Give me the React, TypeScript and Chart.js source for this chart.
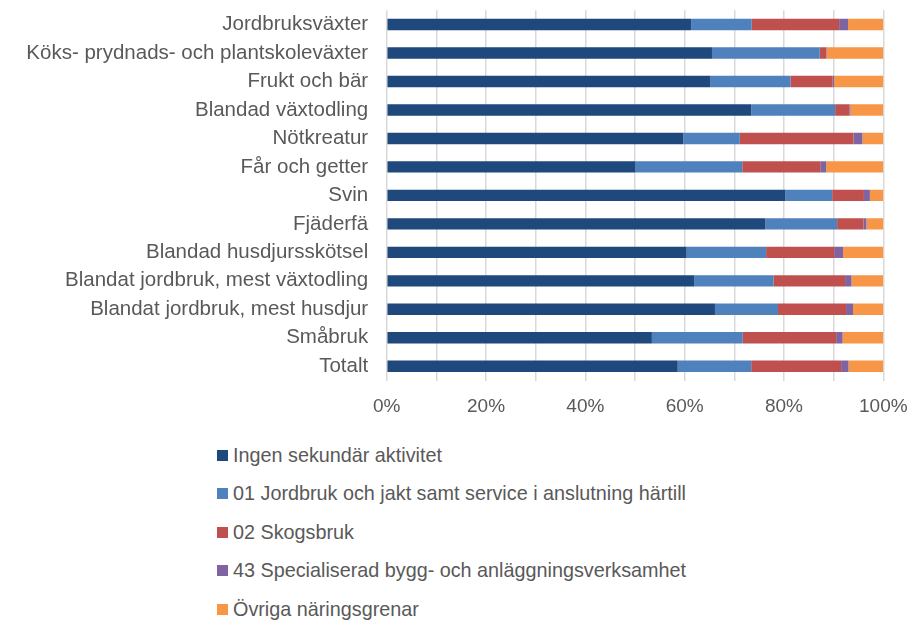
import React, { useEffect, useRef } from "react";
import { Chart, registerables } from "chart.js";

Chart.register(...registerables);

const categories = [
  "Jordbruksväxter",
  "Köks- prydnads- och plantskoleväxter",
  "Frukt och bär",
  "Blandad växtodling",
  "Nötkreatur",
  "Får och getter",
  "Svin",
  "Fjäderfä",
  "Blandad husdjursskötsel",
  "Blandat jordbruk, mest växtodling",
  "Blandat jordbruk, mest husdjur",
  "Småbruk",
  "Totalt",
];

const seriesNames = [
  "Ingen sekundär aktivitet",
  "01 Jordbruk och jakt samt service i anslutning härtill",
  "02 Skogsbruk",
  "43 Specialiserad bygg- och anläggningsverksamhet",
  "Övriga näringsgrenar",
];

const ingen = [61.3, 65.5, 65.1, 73.4, 59.7, 50.0, 80.3, 76.2, 60.4, 61.9, 66.1, 53.4, 58.6];
const jordbruk = [12.2, 21.7, 16.2, 16.9, 11.4, 21.6, 9.4, 14.5, 16.0, 16.0, 12.7, 18.3, 14.8];
const skogsbruk = [17.6, 1.3, 8.5, 2.9, 22.9, 15.7, 6.4, 5.3, 13.7, 14.4, 13.7, 18.8, 18.1];
const bygg = [1.8, 0.1, 0.3, 0.2, 1.8, 1.2, 1.2, 0.6, 1.8, 1.3, 1.4, 1.3, 1.5];
const ovriga = [7.1, 11.4, 9.9, 6.6, 4.2, 11.5, 2.7, 3.4, 8.1, 6.4, 6.1, 8.2, 7.0];

const xTickValues = [0, 20, 40, 60, 80, 100];

const colors = ["#1F497D", "#4F81BD", "#C0504D", "#8064A2", "#F79646"];

const FONT = "'Liberation Sans', Arial, sans-serif";
const TEXT = "#595959";

const zeroPadding = (s: any) => {
  s.paddingTop = 0;
  s.paddingBottom = 0;
  s.paddingLeft = 0;
  s.paddingRight = 0;
};

export default function App() {
  const ref = useRef<HTMLCanvasElement | null>(null);

  useEffect(() => {
    if (!ref.current) return;
    const values = [ingen, jordbruk, skogsbruk, bygg, ovriga];
    const chart = new Chart(ref.current, {
      type: "bar",
      data: {
        labels: categories,
        datasets: values.map((d, i) => ({
          label: seriesNames[i],
          data: d,
          backgroundColor: colors[i],
          borderWidth: 0,
          barPercentage: 0.8,
          categoryPercentage: 0.5,
        })),
      },
      options: {
        indexAxis: "y",
        responsive: false,
        animation: false,
        layout: { padding: { top: 2.3, right: 25.7, left: 0, bottom: 0 } },
        plugins: {
          legend: { display: false },
          tooltip: { enabled: false },
        },
        scales: {
          x: {
            stacked: true,
            min: 0,
            max: 100,
            ticks: {
              stepSize: 10,
              padding: 15,
              color: TEXT,
              font: { family: FONT, size: 19 },
              callback: (v: any) => (xTickValues.includes(Number(v)) ? v + "%" : ""),
              maxRotation: 0,
              autoSkip: false,
            },
            grid: { color: "#D9D9D9", lineWidth: 1.5, drawTicks: false },
            border: { display: false },
            afterFit: (s: any) => {
              s.height = 47.5;
              zeroPadding(s);
            },
          },
          y: {
            stacked: true,
            ticks: {
              padding: 18.5,
              color: TEXT,
              font: { family: FONT, size: 20.5 },
              autoSkip: false,
            },
            grid: { display: false, drawTicks: false },
            border: { display: false },
            afterFit: (s: any) => {
              s.width = 378.7;
              zeroPadding(s);
            },
          },
        },
      },
    });
    return () => chart.destroy();
  }, []);

  return (
    <div style={{ position: "relative", width: 901, height: 616 }}>
      <canvas ref={ref} width={901} height={420} style={{ display: "block" }} />
      <div
        style={{
          position: "absolute",
          left: 209,
          top: 427.75,
          fontFamily: FONT,
          fontSize: 19.8,
          color: TEXT,
        }}
      >
        {seriesNames.map((n, i) => (
          <div
            key={n}
            style={{ display: "flex", alignItems: "center", height: 38.5, whiteSpace: "nowrap" }}
          >
            <span
              style={{
                display: "inline-block",
                width: 11,
                height: 11,
                background: colors[i],
                marginRight: 5,
              }}
            />
            <span>{n}</span>
          </div>
        ))}
      </div>
    </div>
  );
}
